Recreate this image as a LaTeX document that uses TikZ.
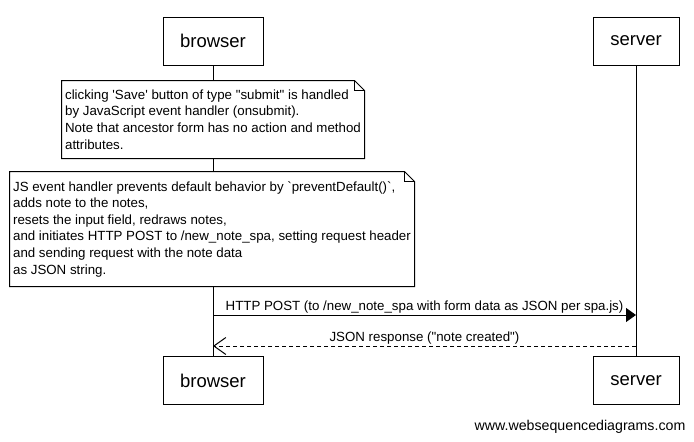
\documentclass[tikz,border=0pt]{standalone}
\usepackage{fontspec}
\setmainfont{Liberation Sans}[Ligatures=TeXOff]
\usetikzlibrary{arrows.meta,calc}
\begin{document}
\begin{tikzpicture}[x=1pt,y=-1pt,
  line width=1pt,
  participant/.style={draw, fill=white, line width=1pt, minimum height=48pt, inner sep=0pt, font=\fontsize{18.5}{22}\selectfont},
  notebox/.style={fill=white, inner sep=0pt, align=left, font=\fontsize{13.3}{16.6}\selectfont},
  noteline/.style={draw, line width=1pt},
  msglabel/.style={anchor=base, inner sep=0pt, font=\fontsize{13.3}{16}\selectfont},
  syncmsg/.style={draw, -{Triangle[length=10pt,width=14pt]}},
  retmsg/.style={draw, dash pattern=on 4pt off 3pt, -{Straight Barb[length=12pt,width=17pt,line width=1pt]}}
]
\useasboundingbox (0,0) rectangle (694,442);

% participants
\node[participant, minimum width=100pt] (btop) at (213,41) {browser};
\node[participant, minimum width=86pt] (stop) at (636,41) {server};
\node[participant, minimum width=100pt] (bbot) at (213,380.5) {browser};
\node[participant, minimum width=86pt] (sbot) at (636,380.5) {server};

% lifelines
\draw (btop.south) -- (bbot.north);
\draw (stop.south) -- (sbot.north);

% note 1
\node[notebox, minimum width=302pt, minimum height=77pt] (n1) at (213,119.5)
 {clicking 'Save' button of type "submit" is handled\\by JavaScript event handler (onsubmit).\\Note that ancestor form has no action and method\\attributes.};
\draw[noteline] (n1.north west) -- ($(n1.north east)+(-10,0)$) -- ($(n1.north east)+(0,10)$) -- (n1.south east) -- (n1.south west) -- cycle;
\draw[noteline] ($(n1.north east)+(-10,0)$) -- ($(n1.north east)+(-10,10)$) -- ($(n1.north east)+(0,10)$);

% note 2
\node[notebox, minimum width=404pt, minimum height=114pt] (n2) at (212,229)
 {JS event handler prevents default behavior by `preventDefault()`,\\adds note to the notes,\\resets the input field, redraws notes,\\and initiates HTTP POST to /new\_note\_spa, setting request header\\and sending request with the note data\\as JSON string.};
\draw[noteline] (n2.north west) -- ($(n2.north east)+(-10,0)$) -- ($(n2.north east)+(0,10)$) -- (n2.south east) -- (n2.south west) -- cycle;
\draw[noteline] ($(n2.north east)+(-10,0)$) -- ($(n2.north east)+(-10,10)$) -- ($(n2.north east)+(0,10)$);

% messages
\coordinate (y1) at (0,315);
\coordinate (y2) at (0,346);
\coordinate (m1a) at (btop |- y1);
\coordinate (m1b) at (stop |- y1);
\coordinate (m2a) at (stop |- y2);
\coordinate (m2b) at (btop |- y2);
\draw[syncmsg] (m1a) -- (m1b);
\node[msglabel] (l1) at ($(m1a)!0.5!(m1b)+(0,-5)$) {HTTP POST (to /new\_note\_spa with form data as JSON per spa.js)};
\draw[retmsg] (m2a) -- (m2b);
\node[msglabel] (l2) at ($(m2a)!0.5!(m2b)+(0,-5)$) {JSON response ("note created")};

% footer
\node[inner sep=0pt, font=\fontsize{14.2}{16}\selectfont] (foot) at (580,427) {www.websequencediagrams.com};
\end{tikzpicture}
\end{document}
